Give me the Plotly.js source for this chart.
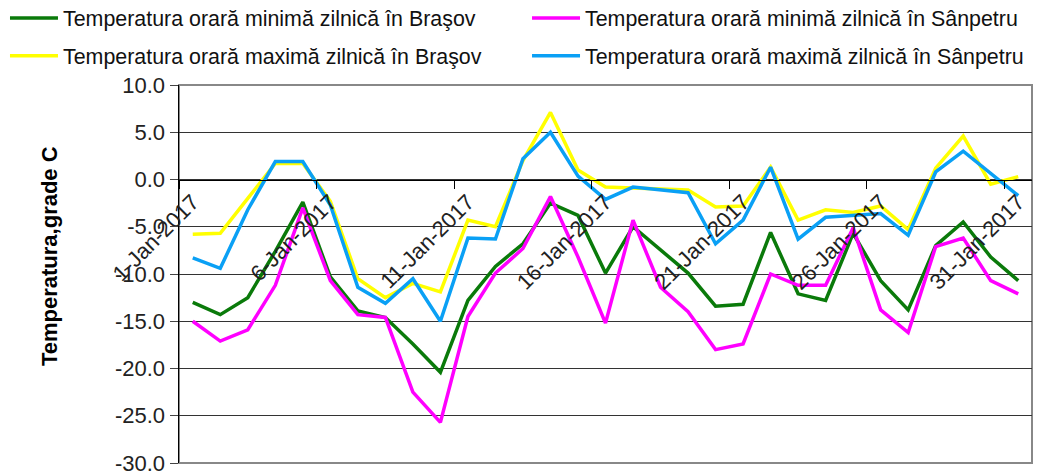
<!DOCTYPE html>
<html>
<head>
<meta charset="utf-8">
<script src="https://cdn.plot.ly/plotly-3.0.1.min.js"></script>
<style>
  html, body { margin: 0; padding: 0; background: #fff; }
  #chart { width: 1037px; height: 475px; }
</style>
</head>
<body>
<div id="chart"></div>
<script>
// zilele lunii ianuarie 2017
const days = [];
for (let d = 1; d <= 31; d++) days.push(d + '-Jan-2017');

const minBrasov = [-13.0, -14.3, -12.5, -7.6, -2.4, -10.3, -13.9, -14.6, -17.4, -20.4,
  -12.8, -9.2, -6.8, -2.5, -3.8, -9.9, -5.0, -7.5, -9.9, -13.4,
  -13.2, -5.6, -12.1, -12.8, -5.7, -10.7, -13.8, -7.0, -4.5, -8.2, -10.7];
const minSanpetru = [-15.0, -17.1, -15.9, -11.2, -3.0, -10.7, -14.3, -14.6, -22.5, -25.7,
  -14.5, -9.9, -7.3, -1.8, -8.2, -15.2, -4.3, -11.4, -14.0, -18.0,
  -17.4, -10.0, -11.2, -11.2, -5.1, -13.8, -16.2, -7.1, -6.2, -10.7, -12.1];
const maxBrasov = [-5.8, -5.7, -2.0, 1.7, 1.7, -2.3, -10.5, -12.5, -11.0, -11.9,
  -4.3, -5.0, 2.0, 7.1, 1.0, -0.8, -0.9, -1.0, -1.1, -2.9,
  -2.8, 1.3, -4.3, -3.2, -3.5, -2.8, -5.3, 1.2, 4.6, -0.5, 0.3];
const maxSanpetru = [-8.3, -9.4, -3.2, 1.9, 1.9, -2.7, -11.4, -13.1, -10.5, -15.0,
  -6.2, -6.3, 2.2, 5.0, 0.35, -2.1, -0.8, -1.1, -1.4, -6.8,
  -4.3, 1.3, -6.3, -4.0, -3.8, -3.6, -5.9, 0.8, 3.0, 0.6, -1.7];

const seriesNames = [
  'Temperatura orară minimă zilnică în Braşov',
  'Temperatura orară minimă zilnică în Sânpetru',
  'Temperatura orară maximă zilnică în Braşov',
  'Temperatura orară maximă zilnică în Sânpetru'
];
const seriesColors = ['#0a7a0a', '#ff00ff', '#ffff00', '#0aa0f5'];

// etichetele axei Y cu cratimă, ca în original
const yTicks = [-30, -25, -20, -15, -10, -5, 0, 5, 10];
const yTickText = yTicks.map(v => v.toFixed(1));

const font = 'Arial, "Liberation Sans", sans-serif';

// legenda are doua coloane: Braşov in stanga, Sânpetru in dreapta
function line(y, i, leg, rank) {
  return {
    x: days, y: y, name: seriesNames[i], type: 'scatter', mode: 'lines',
    line: { color: seriesColors[i], width: 3.5 },
    legend: leg, legendgroup: 'g' + i, legendrank: rank
  };
}

const data = [
  line(maxBrasov, 2, 'legend', 2),
  line(maxSanpetru, 3, 'legend2', 2),
  line(minBrasov, 0, 'legend', 1),
  line(minSanpetru, 1, 'legend2', 1)
];

function legendBox(x) {
  return {
    orientation: 'v', x: x, y: 1.2314, xanchor: 'left', yanchor: 'top',
    itemwidth: 48, tracegroupgap: 7,
    font: { family: font, size: 21.4, color: '#111' },
    bgcolor: 'rgba(0,0,0,0)'
  };
}

const layout = {
  width: 1037, height: 475,
  margin: { l: 179, r: 5, t: 85, b: 12, autoexpand: false },
  paper_bgcolor: '#fff', plot_bgcolor: '#fff',
  font: { family: font, size: 20, color: '#111' },
  showlegend: true,
  legend: legendBox(-0.204),
  legend2: legendBox(0.408),
  xaxis: {
    type: 'category', range: [-0.5, 30.5],
    anchor: 'free', position: 0.75,
    tickmode: 'linear', tick0: 0, dtick: 5,
    tickson: 'boundaries', ticks: 'outside', ticklen: 8, tickcolor: '#000',
    tickangle: -45, tickfont: { family: font, size: 22, color: '#222' },
    showgrid: false, showline: true, linecolor: '#000', linewidth: 1,
    zeroline: false, fixedrange: true
  },
  yaxis: {
    range: [-30, 10], tickmode: 'array', tickvals: yTicks, ticktext: yTickText,
    ticks: 'outside', ticklen: 8, tickcolor: '#444',
    tickfont: { family: font, size: 22, color: '#222' },
    ticklabeloverflow: 'allow',
    showgrid: true, gridcolor: '#333', gridwidth: 1,
    showline: true, linecolor: '#000', linewidth: 1.5,
    zeroline: false, fixedrange: true
  },
  shapes: [{
    type: 'rect', xref: 'paper', yref: 'paper', x0: 0, x1: 1, y0: 0, y1: 1,
    line: { color: '#888', width: 2 }, layer: 'below'
  }],
  annotations: [{
    text: '<b>Temperatura,grade C</b>', textangle: -90,
    xref: 'paper', yref: 'paper', x: -0.151, y: 0.548,
    xanchor: 'center', yanchor: 'middle', showarrow: false,
    font: { family: font, size: 22, color: '#000' }
  }]
};

Plotly.newPlot('chart', data, layout, { displayModeBar: false, staticPlot: true });
</script>
</body>
</html>
